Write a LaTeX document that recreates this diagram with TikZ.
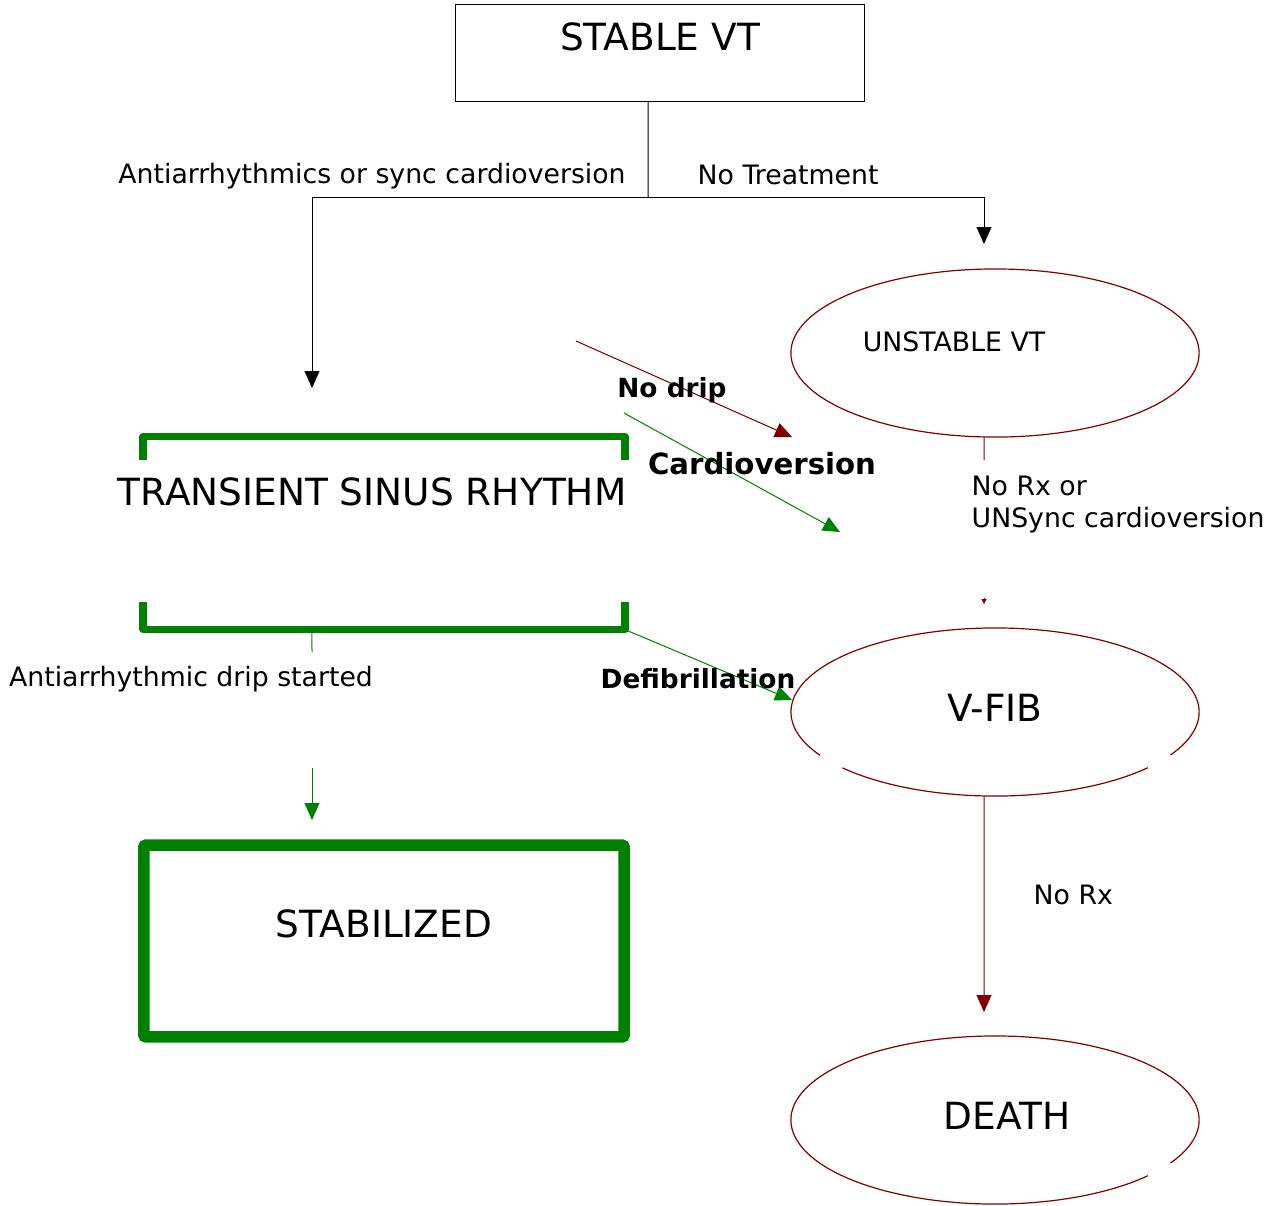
\documentclass[tikz,border=0pt]{standalone}
\usepackage{fontspec}
\setmainfont{DejaVu Sans}
\usetikzlibrary{arrows.meta,shapes.geometric}
\definecolor{darkred}{RGB}{128,0,0}
\definecolor{darkgreen}{RGB}{0,128,0}
\tikzset{
    tip/.style={-{Triangle[length=0.17cm,width=0.15cm]}},
    smalltext/.style={font=\fontsize{7.6}{9.1}\selectfont},
    bigtext/.style={font=\fontsize{10.65}{12.8}\selectfont},
    boldtext/.style={font=\fontsize{7.5}{9.1}\selectfont\bfseries},
    statering/.style={draw=darkred,line width=0.012cm},
    state/.style={shape=ellipse,minimum width=4.08cm,minimum height=1.68cm,inner sep=0pt},
    bracket/.style={draw=darkgreen,line width=0.075cm,line join=round},
}
\begin{document}
\begin{tikzpicture}[x=0.01cm,y=-0.01cm]
    \useasboundingbox (0,0) rectangle (1273,1205);

    \node[draw=black,line width=0.01cm,minimum width=4.08cm,minimum height=0.96cm,text depth=0.32cm,bigtext] (stable) at (660,53) {STABLE VT};
    \node[state,statering,label={[smalltext,xshift=-0.41cm,yshift=0.11cm]center:UNSTABLE VT}] (unstable) at (995,353) {};
    \node[state,label={[bigtext,yshift=0.04cm]center:V-FIB}] (vfib) at (995,712) {};
    \node[state,label={[bigtext,xshift=0.12cm,yshift=0.04cm]center:DEATH}] (death) at (995,1120) {};
    \node[minimum width=4.8cm,minimum height=1.915cm] (tsrbox) at (384,533) {};
    \node[bigtext] (tsr) at (372,492) {TRANSIENT SINUS RHYTHM};
    \node[draw=darkgreen,line width=0.115cm,rounded corners=0.02cm,minimum width=4.8cm,minimum height=1.915cm,text depth=0.34cm,bigtext] (stab) at (384,941) {STABILIZED};

    \draw[statering] (vfib.center) ++(221.6:2.04cm and 0.84cm) arc[start angle=221.6,end angle=318.5,x radius=2.04cm,y radius=0.84cm];
    \draw[statering] (vfib.center) ++(329.3:2.04cm and 0.84cm) arc[start angle=329.3,end angle=571,x radius=2.04cm,y radius=0.84cm];
    \draw[statering] (death.center) ++(329.3:2.04cm and 0.84cm) arc[start angle=329.3,end angle=678.5,x radius=2.04cm,y radius=0.84cm];

    \draw[bracket] ([yshift=-0.235cm]tsrbox.north west) -- (tsrbox.north west) -- (tsrbox.north east) -- ([yshift=-0.235cm]tsrbox.north east);
    \draw[bracket] ([yshift=0.28cm]tsrbox.south west) -- (tsrbox.south west) -- (tsrbox.south east) -- ([yshift=0.28cm]tsrbox.south east);

    \coordinate (split) at (648,197);
    \coordinate (tsrin) at (312,388);
    \coordinate (unstin) at (984,244);
    \coordinate (nodripfrom) at (576,341);
    \coordinate (nodripto) at (792,437);
    \coordinate (cardiofrom) at (624,413);
    \coordinate (cardioto) at (840,532);
    \coordinate (defibto) at (792,700);
    \coordinate (dripcut) at (312,652);
    \coordinate (dripfrom) at (312,768);
    \coordinate (stabin) at (312,820);
    \coordinate (rxcut) at (984,460);
    \coordinate (rxfrom) at (984,598);
    \coordinate (rxto) at (984,604);
    \coordinate (deathin) at (984,1012);

    \draw[line width=0.01cm] ([xshift=-0.12cm]stable.south) -- (split);
    \draw[line width=0.01cm,tip] (split) -| (tsrin);
    \draw[line width=0.01cm,tip] (split) -| (unstin);
    \draw[darkred,line width=0.01cm,tip] (nodripfrom) -- (nodripto);
    \draw[darkgreen,line width=0.01cm,tip] (cardiofrom) -- (cardioto);
    \draw[darkgreen,line width=0.01cm,tip] (tsrbox.south east) -- (defibto);
    \draw[darkgreen,line width=0.01cm] ([xshift=-0.72cm]tsrbox.south) -- (dripcut);
    \draw[darkgreen,line width=0.01cm,tip] (dripfrom) -- (stabin);
    \draw[darkred,line width=0.01cm] ([xshift=-0.11cm]unstable.south) -- (rxcut);
    \draw[darkred,line width=0.01cm,-{Triangle[length=0.05cm,width=0.05cm]}] (rxfrom) -- (rxto);
    \draw[darkred,line width=0.01cm,tip] ([xshift=-0.11cm]vfib.south) -- (deathin);

    \node[smalltext] (treat) at (372,176) {Antiarrhythmics or sync cardioversion};
    \node[smalltext,anchor=west,inner sep=0pt] (notreat) at (697,175) {No Treatment};
    \node[boldtext] (nodrip) at (672,390) {No drip};
    \node[font=\fontsize{8.3}{10}\selectfont\bfseries] (cardio) at (762,464) {Cardioversion};
    \node[smalltext,anchor=west,inner sep=0pt,align=left] (norx) at (971,505) {No Rx or\\UNSync cardioversion};
    \node[smalltext] (drip) at (191,679) {Antiarrhythmic drip started};
    \node[boldtext] (defib) at (698,679) {Defibrillation};
    \node[smalltext,anchor=west,inner sep=0pt] (norxdeath) at (1033,895) {No Rx};

\end{tikzpicture}
\end{document}
